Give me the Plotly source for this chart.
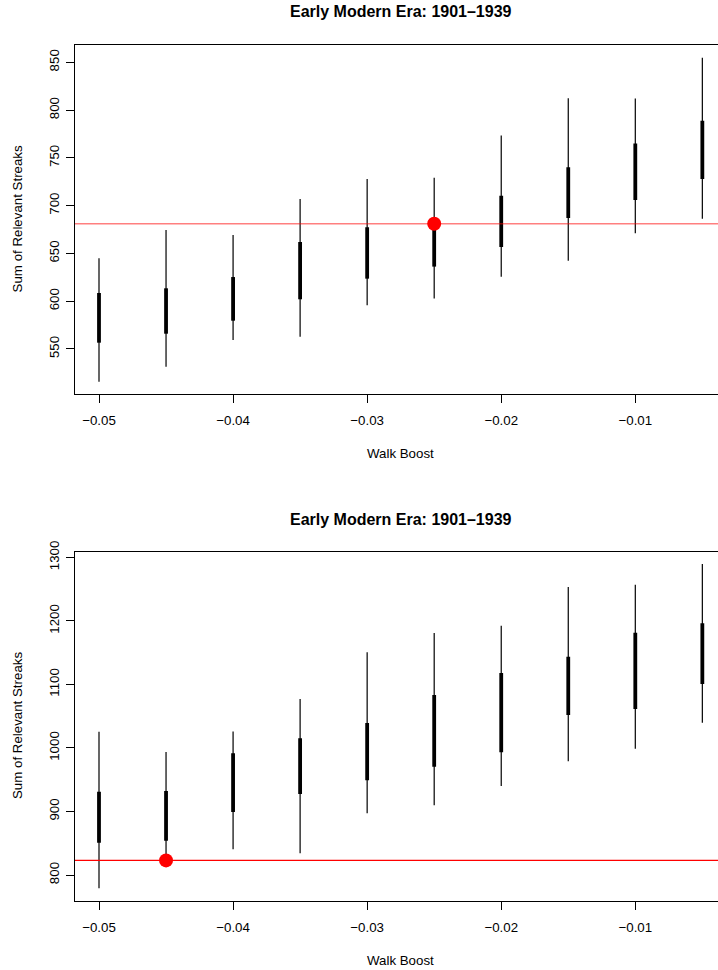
import plotly.graph_objects as go

# ---------------- data ----------------
walk_boost = [-0.05, -0.045, -0.04, -0.035, -0.03, -0.025, -0.02, -0.015, -0.01, -0.005]

top_lo = [515.8, 531.5, 559.4, 562.9, 595.7, 602.7, 625.7, 642.4, 671.0, 686.4]
top_q1 = [556.6, 566.0, 579.6, 602.0, 623.6, 636.2, 656.7, 687.1, 705.9, 727.9]
top_q3 = [608.6, 613.5, 625.3, 662.0, 677.3, 680.0, 710.4, 740.1, 764.9, 788.9]
top_hi = [644.9, 674.5, 669.3, 707.0, 727.9, 729.3, 773.3, 812.3, 812.0, 854.8]
top_observed = 681.0
top_best_boost = -0.025

bot_lo = [779.0, 813.0, 840.4, 834.1, 897.1, 909.7, 940.1, 978.9, 998.9, 1039.8]
bot_q1 = [851.0, 854.0, 899.2, 927.5, 949.0, 970.5, 993.1, 1051.9, 1061.3, 1100.6]
bot_q3 = [931.2, 932.2, 991.5, 1015.1, 1039.3, 1083.3, 1118.0, 1143.7, 1181.5, 1196.1]
bot_hi = [1025.6, 993.6, 1026.1, 1077.0, 1150.5, 1181.0, 1192.5, 1253.3, 1257.0, 1289.5]
bot_observed = 823.0
bot_best_boost = -0.045

x_tickvals = [-0.05, -0.04, -0.03, -0.02, -0.01]
x_ticktext = ["\u22120.05", "\u22120.04", "\u22120.03", "\u22120.02", "\u22120.01"]
top_yticks = [550, 600, 650, 700, 750, 800, 850]
bot_yticks = [800, 900, 1000, 1100, 1200, 1300]

title_text = "Early Modern Era: 1901\u20131939"
x_title = "Walk Boost"
y_title = "Sum of Relevant Streaks"

# ---------------- layout constants ----------------
W, H = 718, 970
FONT = "Liberation Sans, Arial, Helvetica, sans-serif"
FS = 13.3


def segs(xs, lo, hi):
    sx, sy = [], []
    for x, a, b in zip(xs, lo, hi):
        sx += [x, x, None]
        sy += [a, b, None]
    return sx, sy


fig = go.Figure()

panels = [
    dict(xa="x", ya="y", lo=top_lo, q1=top_q1, q3=top_q3, hi=top_hi,
         obs=top_observed, best=top_best_boost, linecol="rgba(255,0,0,0.5)", linew=1.6),
    dict(xa="x2", ya="y2", lo=bot_lo, q1=bot_q1, q3=bot_q3, hi=bot_hi,
         obs=bot_observed, best=bot_best_boost, linecol="#ff0000", linew=1.1),
]

xr = [-0.05179, -0.003832]

for p in panels:
    sx, sy = segs(walk_boost, p["lo"], p["hi"])
    fig.add_trace(go.Scatter(x=sx, y=sy, mode="lines", xaxis=p["xa"], yaxis=p["ya"],
                             line=dict(color="black", width=1.2), showlegend=False,
                             hoverinfo="skip"))
    sx, sy = segs(walk_boost, p["q1"], p["q3"])
    fig.add_trace(go.Scatter(x=sx, y=sy, mode="lines", xaxis=p["xa"], yaxis=p["ya"],
                             line=dict(color="black", width=3.8), showlegend=False,
                             hoverinfo="skip"))
    fig.add_trace(go.Scatter(x=xr, y=[p["obs"], p["obs"]], mode="lines",
                             xaxis=p["xa"], yaxis=p["ya"],
                             line=dict(color=p["linecol"], width=p["linew"]),
                             showlegend=False, hoverinfo="skip"))
    fig.add_trace(go.Scatter(x=[p["best"]], y=[p["obs"]], mode="markers",
                             xaxis=p["xa"], yaxis=p["ya"],
                             marker=dict(color="#ff0000", size=14, line=dict(width=0)),
                             showlegend=False))

x0 = 75 / W
axis_common = dict(showgrid=False, zeroline=False, showline=True, linecolor="black",
                   linewidth=1, ticks="outside", ticklen=8, tickcolor="black",
                   tickwidth=1, automargin=False,
                   tickfont=dict(family=FONT, size=FS, color="black"))

fig.update_layout(
    width=W, height=H, margin=dict(l=0, r=0, t=0, b=0, pad=0, autoexpand=False),
    paper_bgcolor="white", plot_bgcolor="white",
    font=dict(family=FONT, size=FS, color="black"),
    xaxis=dict(domain=[x0, 1], range=xr, anchor="y", tickvals=x_tickvals,
               ticktext=x_ticktext, mirror=True, ticklabelstandoff=6, **axis_common),
    yaxis=dict(domain=[1 - 394 / H, 1 - 44.7 / H], range=[502.9, 868.4], anchor="x",
               tickvals=top_yticks, tickangle=-90, ticklabelstandoff=2, **axis_common),
    xaxis2=dict(domain=[x0, 1], range=xr, anchor="y2", tickvals=x_tickvals,
                ticktext=x_ticktext, mirror=True, ticklabelstandoff=6, **axis_common),
    yaxis2=dict(domain=[1 - 900.7 / H, 1 - 551.7 / H], range=[759.6, 1308.9], anchor="x2",
                tickvals=bot_yticks, tickangle=-90, ticklabelstandoff=2, **axis_common),
)

def ann(text, px, py, size=FS, bold=False, angle=0):
    fig.add_annotation(text=f"<b>{text}</b>" if bold else text,
                       x=px / W, y=1 - py / H, xref="paper", yref="paper",
                       xanchor="center", yanchor="middle", showarrow=False,
                       textangle=angle, font=dict(family=FONT, size=size, color="black"))

ann(title_text, 400.5, 12, size=16, bold=True)
ann(title_text, 400.5, 519, size=16, bold=True)
ann(x_title, 400.5, 453)
ann(x_title, 400.5, 960)
ann(y_title, 17, 219.4, angle=-90)
ann(y_title, 17, 726, angle=-90)

fig.write_html(
    "out.html",
    config={"displayModeBar": False},
    post_script="document.body.style.margin='0';document.body.style.overflow='hidden';",
)
